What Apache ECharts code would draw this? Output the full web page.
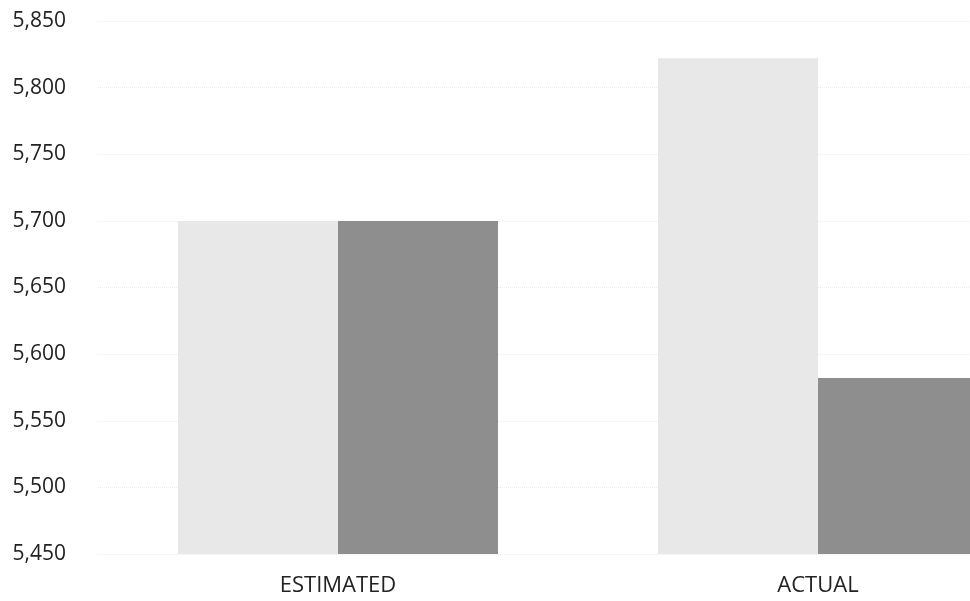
<!DOCTYPE html>
<html><head><meta charset="utf-8">
<script src="https://cdn.jsdelivr.net/npm/echarts@6/dist/echarts.min.js"></script>
<style>html,body{margin:0;padding:0;background:#fff;overflow:hidden;width:970px;height:601px}#c{width:1058px;height:601px}</style>
</head><body><div id="c"></div>
<script>
const categories = ['ESTIMATED', 'ACTUAL'];
const lightValues = [5700, 5822];
const darkValues = [5700, 5582];
const yMin = 5450, yMax = 5850, yStep = 50;

const chart = echarts.init(document.getElementById('c'), null, {renderer: 'canvas'});
chart.setOption({
  animation: false,
  backgroundColor: '#ffffff',
  grid: {left: 98, right: 0, top: 21, bottom: 47, containLabel: false},
  xAxis: {
    type: 'category', data: categories,
    axisLine: {show: false}, axisTick: {show: false},
    axisLabel: {color: '#222', fontSize: 22, fontFamily: 'Open Sans', margin: 21}
  },
  yAxis: {
    type: 'value', min: yMin, max: yMax, interval: yStep,
    axisLine: {show: false}, axisTick: {show: false},
    splitLine: {show: true, lineStyle: {color: '#ececec', type: 'dotted', width: 1}},
    axisLabel: {color: '#222', fontSize: 21, fontFamily: 'Open Sans', margin: 32,
      formatter: v => v.toLocaleString('en-US')}
  },
  series: [
    {type: 'bar', data: lightValues, barGap: '0%', barCategoryGap: '33.33%',
     itemStyle: {color: '#e8e8e8'}},
    {type: 'bar', data: darkValues, barGap: '0%', barCategoryGap: '33.33%',
     itemStyle: {color: '#8e8e8e'}}
  ]
});
</script></body></html>
